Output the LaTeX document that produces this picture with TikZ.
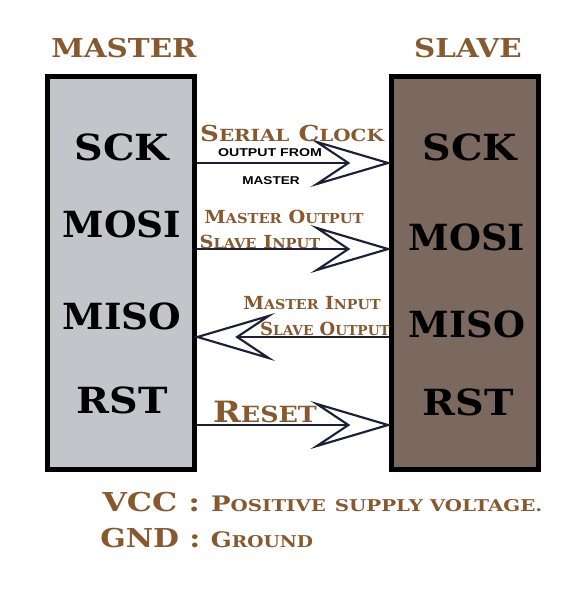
\documentclass[tikz,border=0pt]{standalone}
\usepackage{fontspec}
\setmainfont{DejaVu Serif}
\newfontfamily\etiketSans{Liberation Sans}
\usetikzlibrary{arrows.meta}
\definecolor{yaziKahve}{HTML}{86592F}
\definecolor{ustaGri}{HTML}{C4C5CA}
\definecolor{koleKahve}{HTML}{7B6960}
\definecolor{okLacivert}{HTML}{1E1E38}
\newcommand{\kucukHarf}[2]{#1\scalebox{0.76}{#2}}
\newcommand{\genis}[2]{\scalebox{#1}[1]{#2}}

\begin{document}
\begin{tikzpicture}[x=0.75pt,y=-0.75pt,
  kutu/.style={draw=black,line width=3.75pt,minimum width=110.25pt,minimum height=294.75pt,inner sep=0pt},
  bacak/.style={font=\bfseries\fontsize{27}{27}\selectfont,text=black,inner sep=0pt},
  baslik/.style={font=\bfseries\fontsize{19.5}{19.5}\selectfont,text=yaziKahve,inner sep=0pt},
  aciklama/.style={font=\bfseries\fontsize{13.5}{13.5}\selectfont,text=yaziKahve,inner sep=0pt},
  notYazi/.style={font=\etiketSans\bfseries\fontsize{8.5}{8.5}\selectfont,text=black,inner sep=0pt},
  sinyal/.style={okLacivert,line width=1.6pt,shorten >=-2.5pt,-{Stealth[open,length=61pt,width=36pt,inset=27pt]}}]
\useasboundingbox (0,0) rectangle (564,598);
% kutular
\node[kutu,fill=ustaGri] (master) at (121,273) {};
\node[kutu,fill=koleKahve] (slave) at (464.5,273) {};
\node[baslik] (masterBaslik) at (124,48) {\genis{1.13}{MASTER}};
\node[baslik] (slaveBaslik) at (468,48) {\genis{1.13}{SLAVE}};
% bacaklar
\node[bacak] (mSck) at (122,147) {\genis{1.1}{SCK}};
\node[bacak] (mMosi) at (122,224) {\genis{1.04}{MOSI}};
\node[bacak] (mMiso) at (122,316) {\genis{1.04}{MISO}};
\node[bacak] (mRst) at (122,400) {\genis{1.1}{RST}};
\node[bacak] (sSck) at (470,147) {\genis{1.1}{SCK}};
\node[bacak] (sMosi) at (467,237) {\genis{1.02}{MOSI}};
\node[bacak] (sMiso) at (467,324) {\genis{1.02}{MISO}};
\node[bacak] (sRst) at (468,402) {\genis{1.1}{RST}};
% sinyal hatlari
\coordinate (sckY) at (0,163);
\coordinate (mosiY) at (0,249);
\coordinate (misoY) at (0,337);
\coordinate (rstY) at (0,425);
\draw[sinyal] (master.east |- sckY) -- (slave.west |- sckY);
\draw[sinyal] (master.east |- mosiY) -- (slave.west |- mosiY);
\draw[sinyal] (slave.west |- misoY) -- (master.east |- misoY);
\draw[sinyal] (master.east |- rstY) -- (slave.west |- rstY);
% etiketler
\node[aciklama,font=\bfseries\fontsize{16.5}{16.5}\selectfont] (serialClock) at (292,133) {\genis{1.19}{\kucukHarf{S}{ERIAL} \kucukHarf{C}{LOCK}}};
\node[notYazi] (outputFrom) at (270,153) {\genis{1.25}{OUTPUT FROM}};
\node[notYazi] (fromMaster) at (271,181) {\genis{1.2}{MASTER}};
\node[aciklama] (masterOutput) at (284,217) {\genis{1.07}{\kucukHarf{M}{ASTER} \kucukHarf{O}{UTPUT}}};
\node[aciklama] (slaveInput) at (260,242) {\genis{1.07}{\kucukHarf{S}{LAVE} \kucukHarf{I}{NPUT}}};
\node[aciklama] (masterInput) at (312,303) {\genis{1.04}{\kucukHarf{M}{ASTER} \kucukHarf{I}{NPUT}}};
\node[aciklama] (slaveOutput) at (325,329) {\kucukHarf{S}{LAVE} \kucukHarf{O}{UTPUT}};
\node[aciklama,font=\bfseries\fontsize{22}{22}\selectfont] (reset) at (265,412) {\genis{1.14}{\kucukHarf{R}{ESET}}};
% besleme notlari
\node[baslik,anchor=west] (vcc) at (102,502) {\genis{1.22}{VCC : \fontsize{16}{16}\selectfont\kucukHarf{P}{OSITIVE} \scalebox{0.76}{SUPPLY VOLTAGE.}}};
\node[baslik,anchor=west] (gnd) at (100,538) {\genis{1.15}{GND : \fontsize{16}{16}\selectfont\kucukHarf{G}{ROUND}}};
\end{tikzpicture}
\end{document}
